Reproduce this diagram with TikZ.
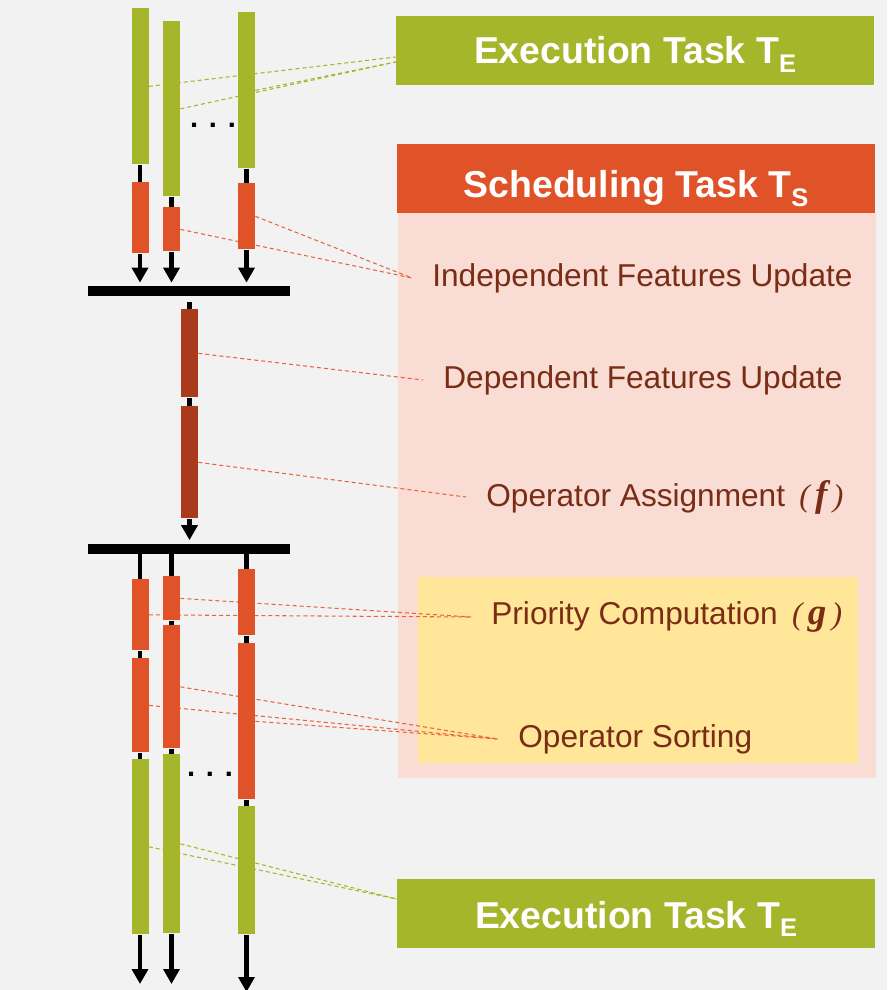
\documentclass[tikz,border=0pt]{standalone}
\usepackage{fontspec}
\setmainfont{Liberation Sans}
\newfontfamily\fnfont{Liberation Serif}
\usetikzlibrary{arrows.meta}
\usetikzlibrary{calc, backgrounds}

\definecolor{exgreen}{HTML}{A6B62A}
\definecolor{schorange}{HTML}{E05328}
\definecolor{depred}{HTML}{A93B1C}
\definecolor{schpink}{HTML}{F9DCD4}
\definecolor{prioyellow}{HTML}{FFE699}
\definecolor{pagegray}{HTML}{F2F2F2}
\definecolor{txtbrown}{HTML}{7A2C15}
\definecolor{dashorange}{HTML}{E8653C}

\newcommand{\tsub}[1]{\raisebox{-5pt}{\fontsize{14.5}{14.5}\selectfont #1}}
\newcommand{\fn}[1]{\hspace{0.45em}{\fnfont\itshape (\,{\fontsize{21}{21}\selectfont\bfseries #1}\,)}}

\tikzset{
  bar/.style={rectangle, inner sep=0pt, minimum width=0.34cm},
  barlen/.style={minimum height=#1*0.02cm},
  exbar/.style={bar, fill=exgreen},
  schbar/.style={bar, fill=schorange},
  depbar/.style={bar, fill=depred},
  syncbar/.style={rectangle, inner sep=0pt, fill=black, minimum width=4.04cm, minimum height=0.2cm},
  link/.style={black, line width=2.6pt},
  flow/.style={link, -{Triangle[width=9pt, length=8.5pt]}},
  headbox/.style={rectangle, inner sep=0pt, minimum width=9.56cm, minimum height=1.38cm, text=white, text depth=0pt, font=\fontsize{21.3}{24}\selectfont\bfseries},
  lbl/.style={anchor=west, inner xsep=0.4cm, inner ysep=0pt, text=txtbrown, font=\fontsize{18}{21}\selectfont},
  exdash/.style={exgreen, dash pattern=on 2.3pt off 1.7pt, line width=0.6pt},
  schdash/.style={dashorange, dash pattern=on 2.3pt off 1.7pt, line width=0.6pt},
  dotsnode/.style={anchor=base, inner sep=0pt, font=\fontsize{16.5}{18}\selectfont\bfseries}
}

\begin{document}
\begin{tikzpicture}[x=0.02cm, y=-0.02cm]
  \useasboundingbox (0,0) rectangle (887,990);

  % execution task, top
  \node[exbar, barlen=156, anchor=north] (e1) at (140,8) {};
  \node[exbar, barlen=175, anchor=north] (e2) at (171.5,21) {};
  \node[exbar, barlen=156, anchor=north] (e3) at (246.5,12) {};
  \node[dotsnode] (dots1) at (213,128) {. . .};

  % independent features update
  \node[schbar, barlen=71, anchor=north] (s1) at (140,182) {};
  \node[schbar, barlen=44, anchor=north] (s2) at (171.5,207) {};
  \node[schbar, barlen=66, anchor=north] (s3) at (246.5,183) {};
  \node[syncbar] (sync1) at (189,291) {};

  % dependent features update / operator assignment
  \node[depbar, barlen=88, anchor=north] (d1) at (189.5,309) {};
  \node[depbar, barlen=112, anchor=north] (d2) at (189.5,406) {};
  \node[syncbar] (sync2) at (189,548.5) {};

  % priority computation
  \node[schbar, barlen=71, anchor=north] (p1) at (140,579) {};
  \node[schbar, barlen=44, anchor=north] (p2) at (171.5,576) {};
  \node[schbar, barlen=66, anchor=north] (p3) at (246.5,569) {};

  % operator sorting
  \node[schbar, barlen=94, anchor=north] (o1) at (140,658) {};
  \node[schbar, barlen=123, anchor=north] (o2) at (171.5,625) {};
  \node[schbar, barlen=156, anchor=north] (o3) at (246.5,643) {};

  % execution task, bottom
  \node[exbar, barlen=175, anchor=north] (f1) at (140,759) {};
  \node[exbar, barlen=179, anchor=north] (f2) at (171.5,754) {};
  \node[exbar, barlen=128, anchor=north] (f3) at (246.5,806) {};
  \node[dotsnode] (dots2) at (210,776) {. . .};

  \coordinate (end1) at (140,984);
  \coordinate (end2) at (171.5,984);
  \coordinate (end3) at (246.5,992);

  \foreach \c in {1,2,3} {
    \draw[link] (e\c.south) -- (s\c.north);
    \draw[flow, shorten >=0.06cm] (s\c.south) -- (s\c.south |- sync1.north);
    \draw[link] (p\c.north |- sync2.south) -- (p\c.north);
    \draw[link] (p\c.south) -- (o\c.north);
    \draw[link] (o\c.south) -- (f\c.north);
    \draw[flow] (f\c.south) -- (end\c);
  }
  \draw[link, shorten <=0.12cm] (d1.north |- sync1.south) -- (d1.north);
  \draw[link] (d1.south) -- (d2.north);
  \draw[flow, shorten >=0.06cm] (d2.south) -- (d2.south |- sync2.north);

  % task headers
  \node[headbox, fill=exgreen, text height=0.52cm] (exec1) at (635,50.5) {Execution Task T\tsub{E}};
  \node[headbox, fill=schorange, text height=0.76cm] (sched) at (636,178.5) {Scheduling Task T\tsub{S}};
  \node[headbox, fill=exgreen, text height=0.58cm] (exec2) at (636,913.5) {Execution Task T\tsub{E}};

  % step labels
  \node[lbl] (indep) at (412,278) {Independent Features Update};
  \node[lbl] (dep) at (423,380) {Dependent Features Update};
  \node[lbl] (assign) at (466,497) {Operator Assignment\fn{f}};
  \node[lbl] (prio) at (471,617) {Priority Computation\fn{g}};
  \node[lbl] (sort) at (498,739) {Operator Sorting};

  \begin{scope}[on background layer]
    \fill[pagegray] (0,0) rectangle (887,990);
    \node[fill=schpink, inner sep=0pt, minimum width=9.56cm, minimum height=11.3cm] (body) at (637,495.5) {};
    \node[fill=prioyellow, inner sep=0pt, minimum width=8.8cm, minimum height=3.72cm] (prioarea) at (638,670) {};

    \draw[exdash] (e1.east) -- ($(exec1.west)+(0,6.5)$);
    \draw[exdash] (e2.east) -- ($(exec1.west)+(0,11.5)$);
    \draw[exdash] (e3.east) -- ($(exec1.west)+(0,11.5)$);

    \draw[schdash] (s2.east) -- (indep.west);
    \draw[schdash] (s3.east) -- (indep.west);
    \draw[schdash] (d1.east) -- (dep.west);
    \draw[schdash] (d2.east) -- (assign.west);
    \draw[schdash] (p1.east) -- (prio.west);
    \draw[schdash] (p2.east) -- (prio.west);
    \draw[schdash] (o1.east) -- (sort.west);
    \draw[schdash] (o2.east) -- (sort.west);
    \draw[schdash] (o3.east) -- (sort.west);

    \draw[exdash] (f1.east) -- ($(exec2.west)+(0,-14.5)$);
    \draw[exdash] (f2.east) -- ($(exec2.west)+(0,-14.5)$);
  \end{scope}
\end{tikzpicture}
\end{document}
